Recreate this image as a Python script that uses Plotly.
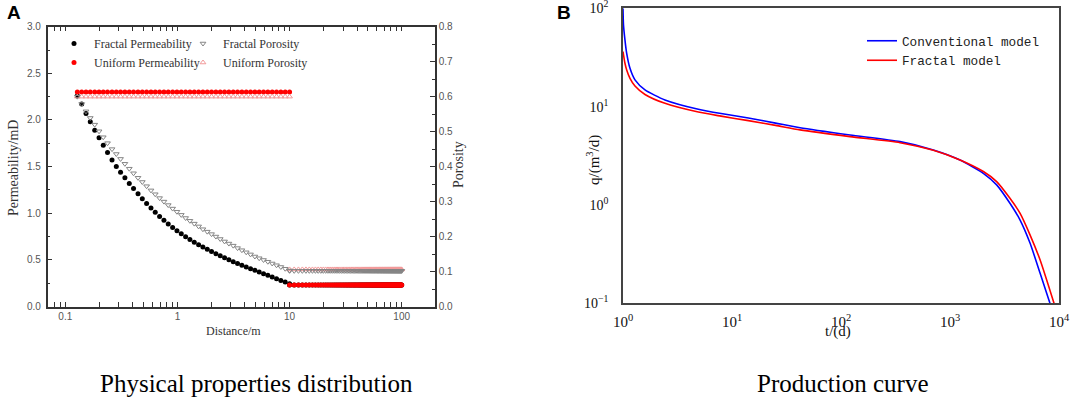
import plotly.graph_objects as go

W, H = 1072, 399

# ---------------- Panel A data ----------------
dist_left = [0.128, 0.140, 0.153, 0.167, 0.183, 0.200, 0.218, 0.238, 0.261, 0.285,
             0.311, 0.340, 0.372, 0.406, 0.445, 0.486, 0.531, 0.581, 0.634, 0.693,
             0.758, 0.828, 0.906, 0.990, 1.082, 1.183, 1.292, 1.413, 1.545, 1.687,
             1.845, 2.015, 2.203, 2.408, 2.632, 2.877, 3.145, 3.437, 3.757, 4.106,
             4.487, 4.906, 5.361, 5.860, 6.405, 7.000, 7.651, 8.362, 9.140, 10.0]
dist_right = [10, 11, 12, 13, 14, 15, 16, 17, 18, 19, 20, 21, 22, 23, 24, 25, 26, 27, 28, 29,
              30, 31, 32, 33, 34, 35, 36, 37, 38, 39, 40, 41, 42, 43, 44, 45, 46, 47, 48, 49,
              50, 51, 52, 53, 54, 55, 56, 57, 58, 59, 60, 61, 62, 63, 64, 65, 66, 67, 68, 69,
              70, 71, 72, 73, 74, 75, 76, 77, 78, 79, 80, 81, 82, 83, 84, 85, 86, 87, 88, 89,
              90, 91, 92, 93, 94, 95, 96, 97, 98, 99, 100]

fractal_perm_left = [2.26, 2.17, 2.07, 1.98, 1.89, 1.81, 1.73, 1.65, 1.57, 1.50,
                     1.44, 1.38, 1.32, 1.265, 1.21, 1.155, 1.105, 1.055, 1.01, 0.965,
                     0.925, 0.885, 0.848, 0.812, 0.779, 0.748, 0.718, 0.690, 0.663, 0.638,
                     0.613, 0.589, 0.566, 0.544, 0.522, 0.501, 0.481, 0.461, 0.442, 0.424,
                     0.406, 0.388, 0.370, 0.352, 0.334, 0.316, 0.298, 0.280, 0.262, 0.245]
fractal_poro_left = [0.600, 0.579, 0.558, 0.539, 0.520, 0.501, 0.484, 0.467, 0.450, 0.436,
                     0.422, 0.408, 0.394, 0.381, 0.368, 0.356, 0.344, 0.332, 0.321, 0.310,
                     0.300, 0.290, 0.280, 0.271, 0.262, 0.253, 0.245, 0.237, 0.229, 0.221,
                     0.214, 0.207, 0.200, 0.193, 0.186, 0.180, 0.174, 0.167, 0.161, 0.155,
                     0.149, 0.143, 0.138, 0.133, 0.128, 0.123, 0.118, 0.113, 0.108, 0.103]

uniform_perm_inner = 2.30   # mD, r < 10 m
uniform_perm_outer = 0.23   # mD, r >= 10 m
uniform_poro_inner = 0.60
uniform_poro_outer = 0.106
fractal_perm_outer = 0.23
fractal_poro_outer = 0.102

x_ticks_A = [0.1, 1, 10, 100]
x_minor_A = [0.07, 0.08, 0.09, 0.2, 0.3, 0.4, 0.5, 0.6, 0.7, 0.8, 0.9,
             2, 3, 4, 5, 6, 7, 8, 9, 20, 30, 40, 50, 60, 70, 80, 90]

# ---------------- Panel B data ----------------
t_conv = [1.0, 1.01, 1.042, 1.081, 1.159, 1.288, 1.592, 2.427, 4.909, 7.94, 14.13, 25.1,
          42.1, 121, 348, 703, 1236, 2023, 2679, 3548, 4385, 5420, 6699, 8260]
q_conv = [100, 68, 47.7, 34.8, 24.5, 18.7, 14.8, 11.7, 9.4, 8.5, 7.67, 6.8,
          6.1, 5.15, 4.41, 3.63, 2.87, 2.10, 1.60, 1.04, 0.706, 0.41, 0.203, 0.1]
t_frac = [1.0, 1.042, 1.081, 1.159, 1.288, 1.592, 2.427, 4.909, 7.94, 14.13, 25.1,
          42.1, 121, 348, 703, 1236, 2023, 2679, 3548, 4385, 5420, 6699, 9000]
q_frac = [36.3, 27.6, 23.6, 19.4, 16.2, 13.3, 10.8, 8.8, 8.0, 7.2, 6.45,
          5.8, 4.95, 4.30, 3.6, 2.87, 2.19, 1.73, 1.17, 0.826, 0.497, 0.277, 0.1]

x_ticks_B = [1, 10, 100, 1000, 10000]
x_text_B = ["10<sup>0</sup>", "10<sup>1</sup>", "10<sup>2</sup>", "10<sup>3</sup>", "10<sup>4</sup>"]
y_ticks_B = [0.1, 1, 10, 100]
y_text_B = ["10<sup>−1</sup>", "10<sup>0</sup>", "10<sup>1</sup>", "10<sup>2</sup>"]


def px(x):
    return x / W


def py(y):
    return 1 - y / H


SERIF = "Liberation Serif, Times New Roman, serif"
SANS = "Liberation Sans, Arial, sans-serif"
MONO = "Liberation Mono, Courier New, monospace"

fig = go.Figure()

x_all = dist_left + dist_right

fig.add_trace(go.Scatter(
    x=x_all, y=fractal_perm_left + [fractal_perm_outer] * len(dist_right),
    mode="markers", name="Fractal Permeability",
    marker=dict(symbol="circle", size=5, color="#000000"),
    xaxis="x", yaxis="y", legend="legend"))
fig.add_trace(go.Scatter(
    x=x_all, y=[uniform_perm_inner] * len(dist_left) + [uniform_perm_outer] * len(dist_right),
    mode="markers", name="Uniform Permeability",
    marker=dict(symbol="circle", size=5, color="#ff0000"),
    xaxis="x", yaxis="y", legend="legend"))
fig.add_trace(go.Scatter(
    x=x_all, y=[uniform_poro_inner] * len(dist_left) + [uniform_poro_outer] * len(dist_right),
    mode="markers", name="Uniform Porosity",
    marker=dict(symbol="triangle-up-open", size=5, color="#f29a9a", line=dict(width=1)),
    xaxis="x", yaxis="y2", legend="legend2"))
fig.add_trace(go.Scatter(
    x=x_all, y=fractal_poro_left + [fractal_poro_outer] * len(dist_right),
    mode="markers", name="Fractal Porosity",
    marker=dict(symbol="triangle-down-open", size=5, color="#858585", line=dict(width=1)),
    xaxis="x", yaxis="y2", legend="legend2"))

fig.add_trace(go.Scatter(
    x=t_conv, y=q_conv, mode="lines", name="Conventional model",
    line=dict(color="#0000ff", width=1.6, shape="spline", smoothing=0.6),
    xaxis="x2", yaxis="y3", legend="legend3"))
fig.add_trace(go.Scatter(
    x=t_frac, y=q_frac, mode="lines", name="Fractal model",
    line=dict(color="#ff0000", width=1.6, shape="spline", smoothing=0.6),
    xaxis="x2", yaxis="y3", legend="legend3"))

axis_col = "#333333"
tick_font_A = dict(family=SANS, size=10, color="#555555")

fig.update_layout(
    width=W, height=H,
    margin=dict(l=0, r=0, t=0, b=0, autoexpand=False),
    paper_bgcolor="white", plot_bgcolor="white",
    xaxis=dict(
        domain=[px(47.7), px(435)], anchor="y", type="log", automargin=False,
        range=[-1.157, 2.297],
        tickvals=x_ticks_A, ticktext=[str(v) for v in x_ticks_A],
        ticks="inside", ticklen=5, tickwidth=1.2, tickcolor=axis_col,
        minor=dict(tickvals=x_minor_A, ticks="inside", ticklen=3, tickwidth=1, tickcolor=axis_col),
        showline=True, linecolor=axis_col, linewidth=1.5, mirror="allticks",
        showgrid=False, zeroline=False, tickfont=tick_font_A),
    yaxis=dict(
        domain=[py(306.5), py(26.7)], anchor="x", range=[0, 3], automargin=False,
        tick0=0, dtick=0.5, tickformat=".1f",
        ticks="inside", ticklen=5, tickwidth=1.2, tickcolor=axis_col,
        minor=dict(dtick=0.25, ticks="inside", ticklen=3, tickwidth=1, tickcolor=axis_col),
        showline=True, linecolor=axis_col, linewidth=1.5, mirror=True,
        showgrid=False, zeroline=False, tickfont=tick_font_A, ticklabelstandoff=3),
    yaxis2=dict(
        overlaying="y", side="right", anchor="x", range=[0, 0.8], automargin=False,
        tick0=0, dtick=0.1, tickformat=".1f",
        ticks="inside", ticklen=5, tickwidth=1.2, tickcolor=axis_col,
        minor=dict(dtick=0.05, ticks="inside", ticklen=3, tickwidth=1, tickcolor=axis_col),
        showline=True, linecolor=axis_col, linewidth=1.5,
        showgrid=False, zeroline=False, tickfont=tick_font_A),
    xaxis2=dict(
        domain=[px(623), px(1059)], anchor="y3", type="log", range=[0, 4], automargin=False,
        tickvals=x_ticks_B, ticktext=x_text_B, ticks="", ticklabeloverflow="allow",
        showline=True, linecolor="#444444", linewidth=1.6, mirror=True,
        showgrid=False, zeroline=False, ticklabelstandoff=4,
        tickfont=dict(family=SERIF, size=15, color="#111111")),
    yaxis3=dict(
        domain=[py(303.3), py(8.3)], anchor="x2", type="log", range=[-1, 2], automargin=False,
        tickvals=y_ticks_B, ticktext=y_text_B, ticks="", ticklabeloverflow="allow",
        showline=True, linecolor="#444444", linewidth=1.6, mirror=True,
        showgrid=False, zeroline=False, ticklabelstandoff=10,
        tickfont=dict(family=SERIF, size=14, color="#111111")),
    legend=dict(x=px(54), y=py(29), xanchor="left", yanchor="top",
                bgcolor="rgba(0,0,0,0)", tracegroupgap=0,
                font=dict(family=SERIF, size=12, color="#333333")),
    legend2=dict(x=px(183), y=py(29), xanchor="left", yanchor="top",
                 bgcolor="rgba(0,0,0,0)", tracegroupgap=0, traceorder="reversed",
                 font=dict(family=SERIF, size=12, color="#333333")),
    legend3=dict(x=px(862), y=py(26), xanchor="left", yanchor="top",
                 bgcolor="rgba(0,0,0,0)", tracegroupgap=0,
                 font=dict(family=MONO, size=12.7, color="#222222")),
)

annotations = [
    dict(text="<b>A</b>", x=px(14), y=py(13), font=dict(family=SANS, size=19, color="#000")),
    dict(text="<b>B</b>", x=px(564), y=py(13), font=dict(family=SANS, size=19, color="#000")),
    dict(text="Permeability/mD", x=px(13), y=py(168), textangle=-90,
         font=dict(family=SERIF, size=14, color="#333")),
    dict(text="Porosity", x=px(459), y=py(165), textangle=-90,
         font=dict(family=SERIF, size=14, color="#333")),
    dict(text="Distance/m", x=px(233), y=py(331),
         font=dict(family=SERIF, size=12, color="#333")),
    dict(text="q/(m<sup>3</sup>/d)", x=px(593), y=py(160), textangle=-90,
         font=dict(family=SERIF, size=15, color="#111")),
    dict(text="t/(d)", x=px(838), y=py(331),
         font=dict(family=SERIF, size=15, color="#111")),
    dict(text="Physical properties distribution", x=px(256), y=py(383),
         font=dict(family=SERIF, size=25, color="#000")),
    dict(text="Production curve", x=px(842), y=py(383),
         font=dict(family=SERIF, size=25, color="#000")),
]
for a in annotations:
    a.update(xref="paper", yref="paper", showarrow=False, xanchor="center", yanchor="middle")
fig.update_layout(annotations=annotations)

fig.write_html(
    "out.html",
    config={"displayModeBar": False},
    post_script="document.body.style.margin='0';document.body.style.overflow='hidden';",
)
